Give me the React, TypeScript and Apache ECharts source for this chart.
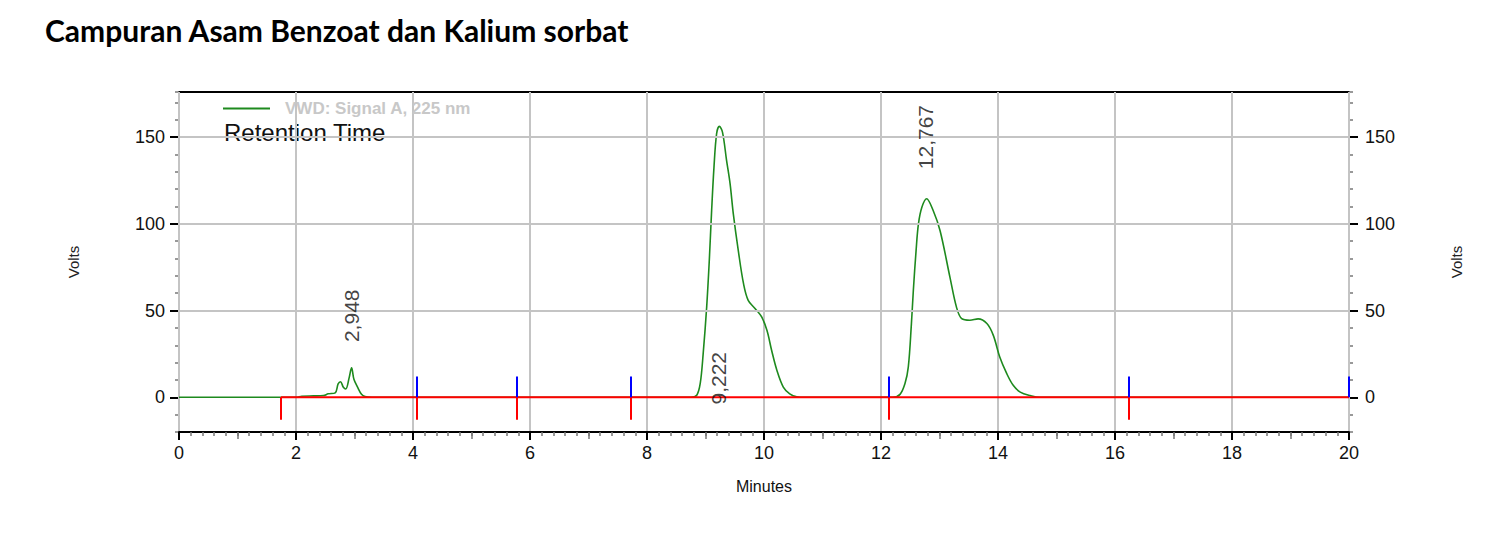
import React, { useEffect, useRef } from "react";
import * as echarts from "echarts";

const TITLE = "Campuran Asam Benzoat dan Kalium sorbat";
const SIGNAL_NAME = "VWD: Signal A, 225 nm";
const ANNOTATION = "Retention Time";
const X_NAME = "Minutes";
const Y_NAME = "Volts";

// chromatogram trace (minutes, volts)
const traceTimes = [
  0, 1.0, 2.0, 2.1, 2.3, 2.47, 2.55, 2.67, 2.72, 2.76, 2.81, 2.85, 2.91, 2.95, 2.99, 3.05, 3.12, 3.18, 3.3,
  5.0, 8.0, 8.75, 8.85, 8.91, 8.96, 9.02, 9.065, 9.105, 9.145, 9.19, 9.236, 9.29, 9.36, 9.42, 9.475, 9.56,
  9.65, 9.73, 9.85, 9.96, 10.05, 10.13, 10.22, 10.33, 10.44, 10.56, 10.7,
  11.5, 12.2, 12.325, 12.41, 12.467, 12.52, 12.553, 12.6, 12.64, 12.7, 12.78, 12.89, 13.01, 13.18, 13.29,
  13.38, 13.52, 13.66, 13.81, 13.92, 14.03, 14.15, 14.26, 14.38, 14.55, 14.72, 16.0, 20.0,
];
const traceValues = [
  0, 0, 0, 0.6, 0.8, 1.0, 2.0, 2.6, 7.7, 9.0, 5.8, 4.8, 11.5, 17.0, 10.4, 6.0, 1.7, 0.4, 0,
  0, 0, 0, 1.2, 8, 25, 52, 79, 107.8, 132.7, 152, 156.2, 152.9, 136.6, 123.2, 105.9, 84.7,
  65.5, 55.9, 51.1, 46.3, 38.6, 27.1, 15.6, 5.9, 2.0, 0.3, 0,
  0, 0, 1.7, 7.9, 17.5, 42.5, 61.7, 84.7, 100, 109.7, 114.5, 107.8, 96, 69, 52,
  45.3, 44.4, 45.2, 42.5, 35.7, 23.2, 13.6, 6.9, 3.0, 1.0, 0, 0, 0,
];

// integration marks
const peakTimes = [2.948, 9.222, 12.767];
const peakLabels = ["2,948", "9,222", "12,767"];
const peakLabelLevels = [47, 11, 150];
const baselineStart = 1.744;
const baselineEnd = 20;
const redMarkTimes = [1.744, 4.07, 5.78, 7.72, 12.14, 16.24];
const redMarkDepth = -13;
const blueMarkTimes = [4.07, 5.78, 7.72, 12.14, 16.24, 20];
const blueMarkHeight = 12;

// axes
const yLabelValues = [0, 50, 100, 150];
const gridLineValues = [50, 100, 150];
const X_MIN = 0;
const X_MAX = 20;
const Y_MIN = -20;
const Y_MAX = 176;

const AX_FONT = "Liberation Sans, Arial, sans-serif";

export default function App() {
  const ref = useRef<HTMLDivElement>(null);

  useEffect(() => {
    if (!ref.current) return;
    const chart = echarts.init(ref.current, null, { renderer: "svg" });

    const trace = traceTimes.map((t, i) => [t, traceValues[i]]);
    const yFmt = (v: number) => (yLabelValues.includes(v) ? String(v) : "");

    const baseY = {
      type: "value",
      min: Y_MIN,
      max: Y_MAX,
      interval: 10,
      splitLine: { show: false },
    };

    const option: any = {
      animation: false,
      backgroundColor: "#fff",
      title: {
        text: TITLE,
        left: 45,
        top: 15,
        padding: 0,
        textStyle: { fontFamily: "Lato", fontWeight: "bold", fontSize: 30, color: "#000" },
      },
      legend: {
        left: 223,
        top: 100,
        padding: 0,
        itemWidth: 47,
        itemHeight: 2,
        data: [{ name: SIGNAL_NAME, icon: "rect" }],
        selectedMode: false,
        textStyle: {
          fontFamily: AX_FONT,
          fontWeight: "bold",
          fontSize: 17,
          color: "#c8c8c8",
          padding: [0, 0, 0, 10],
        },
      },
      graphic: [
        {
          type: "text",
          x: 224,
          y: 132,
          style: {
            text: ANNOTATION,
            fontFamily: AX_FONT,
            fontSize: 24,
            fill: "#111",
            verticalAlign: "middle",
          },
        },
      ],
      grid: {
        left: 179,
        top: 92,
        width: 1170,
        height: 340,
        show: true,
        borderColor: "#000",
        borderWidth: 2,
        backgroundColor: "transparent",
      },
      xAxis: [
        {
          type: "value",
          position: "bottom",
          min: X_MIN,
          max: X_MAX,
          interval: 2,
          z: 3,
          name: X_NAME,
          nameLocation: "middle",
          nameGap: 46,
          nameTextStyle: { fontFamily: AX_FONT, fontSize: 16, color: "#111" },
          axisLine: { show: true, onZero: false, lineStyle: { color: "#000", width: 2 } },
          axisTick: { show: true, length: 8, lineStyle: { color: "#000", width: 2 } },
          minorTick: { show: true, splitNumber: 10, length: 4, lineStyle: { color: "#777", width: 1.5 } },
          axisLabel: { margin: 12, fontFamily: AX_FONT, fontSize: 18, color: "#111" },
          splitLine: { show: true, lineStyle: { color: "#c4c4c4", width: 2 } },
        },
        {
          type: "value",
          position: "bottom",
          min: X_MIN,
          max: X_MAX,
          interval: 1,
          z: 1,
          axisLine: { show: false, onZero: false },
          axisTick: { show: true, length: 7, lineStyle: { color: "#777", width: 1.5 } },
          axisLabel: { show: false },
          splitLine: { show: false },
        },
      ],
      yAxis: [
        {
          ...baseY,
          position: "left",
          name: Y_NAME,
          nameLocation: "middle",
          nameRotate: 90,
          nameGap: 98,
          nameTextStyle: { fontFamily: AX_FONT, fontSize: 15, color: "#222" },
          axisLine: { show: true, onZero: false, lineStyle: { color: "#000", width: 2 } },
          axisTick: { show: true, length: 4, lineStyle: { color: "#777", width: 1.5 } },
          axisLabel: { margin: 14, formatter: yFmt, fontFamily: AX_FONT, fontSize: 18, color: "#111" },
        },
        {
          ...baseY,
          position: "right",
          name: Y_NAME,
          nameLocation: "middle",
          nameRotate: 90,
          nameGap: 100,
          nameTextStyle: { fontFamily: AX_FONT, fontSize: 15, color: "#222" },
          axisLine: { show: true, onZero: false, lineStyle: { color: "#000", width: 2 } },
          axisTick: { show: true, length: 4, lineStyle: { color: "#777", width: 1.5 } },
          axisLabel: { margin: 16, formatter: yFmt, fontFamily: AX_FONT, fontSize: 18, color: "#111" },
        },
        {
          ...baseY,
          position: "left",
          axisLine: { show: false, onZero: false },
          axisTick: { show: true, length: 9, customValues: yLabelValues, lineStyle: { color: "#000", width: 2 } },
          axisLabel: { show: false },
        },
        {
          ...baseY,
          position: "right",
          axisLine: { show: false, onZero: false },
          axisTick: { show: true, length: 9, customValues: yLabelValues, lineStyle: { color: "#000", width: 2 } },
          axisLabel: { show: false },
        },
      ],
      series: [
        {
          name: "grid",
          type: "line",
          data: [],
          silent: true,
          z: 1,
          markLine: {
            silent: true,
            symbol: "none",
            label: { show: false },
            lineStyle: { color: "#c4c4c4", width: 2, type: "solid" },
            data: gridLineValues.map((v) => ({ yAxis: v })),
          },
        },
        {
          name: SIGNAL_NAME,
          type: "line",
          data: trace,
          smooth: 0.35,
          symbol: "none",
          z: 3,
          lineStyle: { color: "#1e8a1e", width: 1.6 },
          itemStyle: { color: "#1e8a1e" },
        },
        {
          name: "baseline",
          type: "line",
          data: [
            [baselineStart, 0],
            [baselineEnd, 0],
          ],
          symbol: "none",
          z: 4,
          lineStyle: { color: "#ff0000", width: 2 },
          markLine: {
            silent: true,
            symbol: "none",
            label: { show: false },
            data: [
              ...redMarkTimes.map((t) => [
                { coord: [t, 0], lineStyle: { color: "#ff0000", width: 2, type: "solid" } },
                { coord: [t, redMarkDepth] },
              ]),
              ...blueMarkTimes.map((t) => [
                { coord: [t, 0], lineStyle: { color: "#0000ff", width: 2, type: "solid" } },
                { coord: [t, blueMarkHeight] },
              ]),
            ],
          },
        },
        {
          name: "peaks",
          type: "scatter",
          data: peakTimes.map((t, i) => [t, peakLabelLevels[i]]),
          symbolSize: 1,
          z: 5,
          itemStyle: { color: "transparent" },
          label: {
            show: true,
            position: "inside",
            rotate: 90,
            formatter: (p: any) => peakLabels[p.dataIndex],
            fontFamily: AX_FONT,
            fontSize: 21,
            color: "#111",
          },
        },
      ],
    };

    chart.setOption(option);
    return () => chart.dispose();
  }, []);

  return (
    <div
      ref={ref}
      style={{ position: "fixed", left: 0, top: 0, width: 1508, height: 536, background: "#fff" }}
    />
  );
}
